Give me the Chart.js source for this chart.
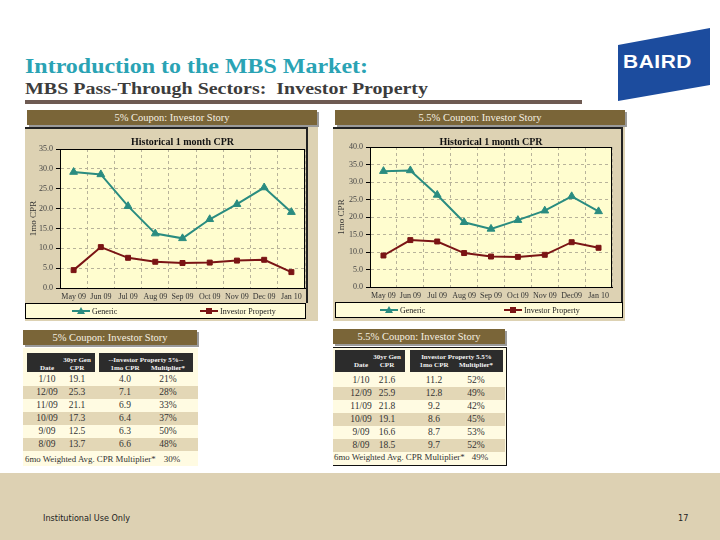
<!DOCTYPE html>
<html><head><meta charset="utf-8">
<script src="https://cdn.jsdelivr.net/npm/chart.js@4.4.0/dist/chart.umd.min.js"></script>
<style>
html,body{margin:0;padding:0;}
body{width:720px;height:540px;position:relative;background:#fff;overflow:hidden;font-family:"Liberation Serif","DejaVu Serif",serif;}
.a{position:absolute;}
.bar{position:absolute;background:#7a6538;color:#f6f0e2;font-size:10.5px;text-align:center;box-shadow:2px 2px 0 #9a9a9a;white-space:nowrap;}
.panel{position:absolute;background:#ddd2b3;}
.cell{position:absolute;white-space:nowrap;font-size:9.5px;color:#333;transform:translateX(-50%);}
.hd{position:absolute;background:#2c2c2c;}
.ht{position:absolute;white-space:nowrap;font-size:7px;font-weight:bold;color:#f2f2f2;transform:translateX(-50%);}
</style></head><body>

<div id="title" class="a" style="left:25px;top:53px;font-size:22px;font-weight:bold;color:#2aa3b4;white-space:nowrap;transform-origin:0 0;">Introduction to the MBS Market:</div>
<div id="subtitle" class="a" style="left:25px;top:78px;font-size:17.5px;font-weight:bold;color:#3c3c3c;white-space:nowrap;transform-origin:0 0;">MBS Pass-Through Sectors:&nbsp; Investor Property</div>
<div class="a" style="left:25px;top:100px;width:557px;height:4px;background:#6e5a52;"></div>

<svg class="a" style="left:0;top:0;" width="720" height="110">
  <polygon points="618,45 710,28 710,85 618,101" fill="#1c4c9e"/>
</svg>
<div id="baird" class="a" style="left:623px;top:51px;font-family:'Liberation Sans',sans-serif;font-size:19px;font-weight:bold;color:#fff;letter-spacing:0.5px;transform-origin:0 0;">BAIRD</div>

<!-- chart panels -->
<div class="panel" style="left:25px;top:127px;width:293px;height:194px;"></div>
<div class="a" style="left:25px;top:127px;width:282px;height:1.5px;background:#222;"></div>
<div class="a" style="left:306px;top:127px;width:1.5px;height:176px;background:#222;"></div>
<div class="bar" style="left:27px;top:110px;width:290px;height:15px;line-height:15px;">5% Coupon: Investor Story</div>
<canvas id="c1" class="a" style="left:25px;top:128px;" width="293" height="192"></canvas>

<div class="panel" style="left:333px;top:127px;width:292px;height:194px;"></div>
<div class="a" style="left:333px;top:127px;width:290px;height:1.5px;background:#222;"></div>
<div class="a" style="left:621px;top:127px;width:1.5px;height:176px;background:#222;"></div>
<div class="bar" style="left:335px;top:110px;width:290px;height:15px;line-height:15px;">5.5% Coupon: Investor Story</div>
<canvas id="c2" class="a" style="left:333px;top:128px;" width="292" height="192"></canvas>

<div id="tables"></div>

<div class="a" style="left:0;top:473px;width:720px;height:67px;background:#ddd1b3;"></div>
<div class="a" style="left:43px;top:513px;font-family:'DejaVu Sans Condensed','DejaVu Sans',sans-serif;font-size:9px;color:#222;">Institutional Use Only</div>
<div class="a" style="left:678px;top:513px;font-family:'DejaVu Sans Condensed','DejaVu Sans',sans-serif;font-size:9px;color:#222;">17</div>

<script>
// ---- data ----
const months5  = ["May 09","Jun 09","Jul 09","Aug 09","Sep 09","Oct 09","Nov 09","Dec 09","Jan 10"];
const months55 = ["May 09","Jun 09","Jul 09","Aug 09","Sep 09","Oct 09","Nov 09","Dec09","Jan 10"];
const generic5    = [29.2, 28.6, 20.6, 13.7, 12.5, 17.3, 21.1, 25.3, 19.1];
const investor5   = [4.5, 10.3, 7.6, 6.6, 6.3, 6.4, 6.9, 7.1, 4.0];
const generic55   = [33.1, 33.3, 26.3, 18.5, 16.6, 19.1, 21.8, 25.9, 21.6];
const investor55  = [9.0, 13.4, 13.0, 9.7, 8.7, 8.6, 9.2, 12.8, 11.2];
const tableDates  = ["1/10","12/09","11/09","10/09","9/09","8/09"];
const tGen5   = ["19.1","25.3","21.1","17.3","12.5","13.7"];
const tInv5   = ["4.0","7.1","6.9","6.4","6.3","6.6"];
const tMult5  = ["21%","28%","33%","37%","50%","48%"];
const tGen55  = ["21.6","25.9","21.8","19.1","16.6","18.5"];
const tInv55  = ["11.2","12.8","9.2","8.6","8.7","9.7"];
const tMult55 = ["52%","49%","42%","45%","53%","52%"];
const wavg5 = "30%", wavg55 = "49%";

const TEAL = '#2a8c80', RED = '#7a1414', SERIF = '"Liberation Serif","DejaVu Serif",serif';

// fit text widths
function fitW(id, w){ const el=document.getElementById(id); const s=w/el.getBoundingClientRect().width; el.style.transform='scaleX('+s+')'; }
fitW('title', 343); fitW('subtitle', 403); fitW('baird', 69);

const decor = {
  id:'decor',
  beforeDraw(chart, args, o){
    const {ctx, chartArea:a} = chart;
    ctx.save(); ctx.fillStyle='#fffdcf'; ctx.fillRect(a.left,a.top,a.right-a.left,a.bottom-a.top); ctx.restore();
  },
  afterDraw(chart, args, o){
    const {ctx, chartArea:a} = chart;
    ctx.save();
    ctx.strokeStyle='#000'; ctx.lineWidth=1;
    ctx.strokeRect(a.left+0.5,a.top+0.5,a.right-a.left-1,a.bottom-a.top);
    ctx.fillStyle='#111'; ctx.font='bold 10px '+SERIF; ctx.textAlign='center'; ctx.textBaseline='middle';
    ctx.fillText('Historical 1 month CPR',(a.left+a.right)/2,o.ty);
    // legend box
    ctx.fillStyle='#fffcd8'; ctx.fillRect(o.lx0,o.ly0,o.lx1-o.lx0,o.ly1-o.ly0);
    ctx.strokeStyle='#000'; ctx.lineWidth=1; ctx.strokeRect(o.lx0+0.5,o.ly0+0.5,o.lx1-o.lx0-1,o.ly1-o.ly0-1);
    const ym=(o.ly0+o.ly1)/2;
    chart.data.datasets.forEach((ds,i)=>{
      const x=o.items[i];
      ctx.strokeStyle=ds.borderColor; ctx.lineWidth=2;
      ctx.beginPath(); ctx.moveTo(x,ym); ctx.lineTo(x+18,ym); ctx.stroke();
      ctx.fillStyle=ds.borderColor; const cx=x+9;
      if(ds.pointStyle==='triangle'){ctx.beginPath();ctx.moveTo(cx,ym-4);ctx.lineTo(cx+4,ym+3);ctx.lineTo(cx-4,ym+3);ctx.closePath();ctx.fill();}
      else ctx.fillRect(cx-3,ym-3,6,6);
      ctx.fillStyle='#222'; ctx.font='8px '+SERIF; ctx.textAlign='left';
      ctx.fillText(ds.label,x+20,ym+0.5);
    });
    ctx.restore();
  }
};

function makeChart(id, labels, gen, inv, yMax, g){
  const canvas=document.getElementById(id);
  new Chart(canvas,{
    type:'line',
    data:{labels, datasets:[
      {label:'Generic', data:gen, borderColor:TEAL, backgroundColor:TEAL, pointStyle:'triangle', pointRadius:4.5, pointBorderWidth:1, borderWidth:2, tension:0},
      {label:'Investor Property', data:inv, borderColor:RED, backgroundColor:RED, pointStyle:'rect', pointRadius:3.5, pointBorderWidth:1, borderWidth:2, tension:0}
    ]},
    options:{
      responsive:false, animation:false, devicePixelRatio:1,
      layout:{padding:{left:0,right:canvas.width-g.pr,top:g.pt,bottom:canvas.height-g.pb-15}},
      plugins:{legend:{display:false},title:{display:false},tooltip:{enabled:false},decor:g.decor},
      scales:{
        x:{offset:true,
           grid:{color:'#b8b39a',lineWidth:1,drawTicks:false,offset:true},
           border:{color:'#000',width:1,dash:[3,3]},
           ticks:{color:'#333',font:{family:SERIF,size:8},padding:4,maxRotation:0,autoSkip:false},
           afterFit(s){s.height=15;}},
        y:{min:0,max:yMax,
           grid:{color:'#b8b39a',lineWidth:1,tickLength:4,tickColor:'#000',tickBorderDash:[]},
           border:{color:'#000',width:1,dash:[3,3]},
           ticks:{stepSize:5,color:'#444',font:{family:SERIF,size:8},padding:3,callback:v=>v.toFixed(1)},
           title:{display:true,text:'1mo CPR',color:'#333',font:{family:SERIF,size:9},padding:{top:3,bottom:0}},
           afterFit(s){s.width=g.pl;}}
      }
    },
    plugins:[decor]
  });
}

makeChart('c1', months5, generic5, investor5, 35,
  {pl:35, pr:280, pt:21, pb:160, decor:{ty:14, lx0:0, lx1:281, ly0:175, ly1:191, items:[47,175]}});
makeChart('c2', months55, generic55, investor55, 40,
  {pl:37, pr:279, pt:19, pb:159, decor:{ty:14, lx0:2, lx1:290, ly0:174, ly1:190, items:[47,171]}});

// ---- tables ----
function addDiv(parent, cls, css, text){ const d=document.createElement('div'); d.className=cls; d.style.cssText=css; if(text!==undefined) d.textContent=text; parent.appendChild(d); return d; }
function makeTable(t){
  const root=document.getElementById('tables');
  addDiv(root,'a',`left:${t.x0}px;top:${t.bodyTop}px;width:${t.x1-t.x0}px;height:${466-t.bodyTop}px;background:#fffbe2;${t.borders||''}`);
  addDiv(root,'bar',`left:${t.x0}px;top:${t.barTop}px;width:${t.barW}px;height:15px;line-height:15px;font-size:10.5px;`, t.title);
  t.boxes.forEach(b=>addDiv(root,'hd',`left:${b[0]}px;top:${t.hy0}px;width:${b[1]-b[0]}px;height:${t.hy1-t.hy0}px;`));
  const l1=t.hy0+3, l2=t.hy0+11;
  addDiv(root,'ht',`left:${t.cols[1]}px;top:${l1}px;`,'30yr Gen');
  addDiv(root,'ht',`left:${t.cols[0]}px;top:${l2}px;`,'Date');
  addDiv(root,'ht',`left:${t.cols[1]}px;top:${l2}px;`,'CPR');
  addDiv(root,'ht',`left:${(t.boxes[1][0]+t.boxes[1][1])/2}px;top:${l1}px;`,t.invHead);
  addDiv(root,'ht',`left:${t.cols[2]}px;top:${l2}px;`,'1mo CPR');
  addDiv(root,'ht',`left:${t.cols[3]}px;top:${l2}px;`,'Multiplier*');
  tableDates.forEach((d,i)=>{
    const y=t.rowTop+i*13;
    addDiv(root,'a',`left:${t.x0}px;top:${y}px;width:${t.rowW}px;height:13px;background:${i%2?'#e3d7b6':'#fffbe2'};`);
    [d,t.gen[i],t.inv[i],t.mult[i]].forEach((v,j)=>addDiv(root,'cell',`left:${t.cols[j]}px;top:${y+1}px;`,v));
  });
  addDiv(root,'a',`left:${t.fx}px;top:${t.fy}px;font-size:8.8px;color:#333;white-space:nowrap;`,'6mo Weighted Avg. CPR Multiplier*');
  addDiv(root,'cell',`left:${t.fvx}px;top:${t.fy}px;font-size:9px;`,t.wavg);
}
makeTable({x0:23,x1:198,barTop:330,barW:174,bodyTop:348,title:'5% Coupon: Investor Story',
  boxes:[[27,95],[99,193]],hy0:353,hy1:372,rowTop:373,rowW:175,cols:[47,77,125,168],
  invHead:'--Investor Property 5%--',gen:tGen5,inv:tInv5,mult:tMult5,fx:25,fy:454,fvx:172,wavg:wavg5});
makeTable({x0:333,x1:507,barTop:329,barW:172,bodyTop:347,title:'5.5% Coupon: Investor Story',
  borders:'box-sizing:border-box;border-top:1px solid #111;border-right:1.5px solid #111;border-bottom:1.5px solid #111;',
  boxes:[[335,405],[410,503]],hy0:350,hy1:372,rowTop:374,rowW:172,cols:[361,387,434,476],
  invHead:'Investor Property 5.5%',gen:tGen55,inv:tInv55,mult:tMult55,fx:334,fy:452,fvx:480,wavg:wavg55});
</script>
</body></html>
